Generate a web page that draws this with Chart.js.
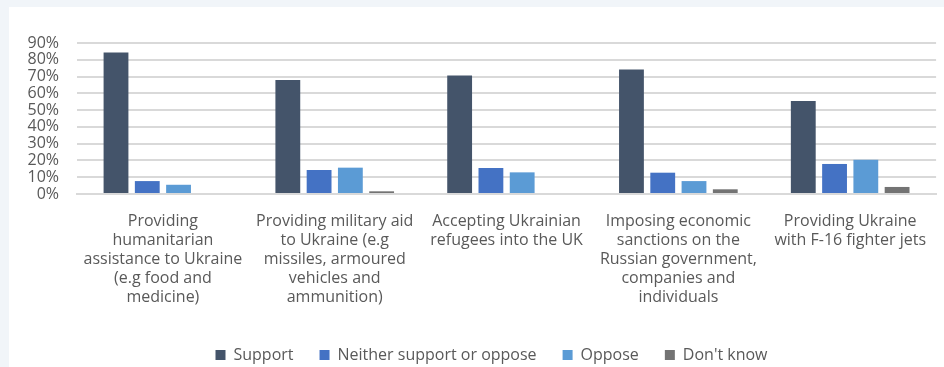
<!DOCTYPE html>
<html>
<head>
<meta charset="utf-8">
<script src="https://cdn.jsdelivr.net/npm/chart.js@4"></script>
<style>
  html, body { margin: 0; padding: 0; background: #f1f5f9; width: 944px; height: 367px; overflow: hidden; }
  #card { position: absolute; left: 9px; top: 7px; width: 935px; height: 360px; background: #fff; overflow: hidden; }
</style>
</head>
<body>
<div id="card"><canvas id="chart-ukraine" width="935" height="366"></canvas></div>
<script>
  // survey: public opinion on UK support for Ukraine (percent of respondents)
  var categories = [
    ['Providing', 'humanitarian', 'assistance to Ukraine', '(e.g food and', 'medicine)'],
    ['Providing military aid', 'to Ukraine (e.g', 'missiles, armoured', 'vehicles and', 'ammunition)'],
    ['Accepting Ukrainian', 'refugees into the UK'],
    ['Imposing economic', 'sanctions on the', 'Russian government,', 'companies and', 'individuals'],
    ['Providing Ukraine', 'with F-16 fighter jets']
  ];
  var support = [84.3, 68.0, 70.7, 74.2, 55.4];
  var neither = [7.7, 14.3, 15.5, 12.7, 17.9];
  var oppose = [5.5, 15.7, 12.9, 7.7, 20.4];
  var dontKnow = [0, 1.6, 0, 2.8, 4.2];
  var yMax = 90;
  var yStep = 10;

  var textColor = '#595959';
  var gridColor = '#d9d9d9';
  var fontFamily = '"Open Sans", sans-serif';

  function series(label, data, color) {
    return {
      label: label,
      data: data,
      backgroundColor: color,
      borderWidth: 0,
      categoryPercentage: 0.728,
      barPercentage: 0.794
    };
  }

  // legend sits a little right of the canvas centre
  var legendNudge = {
    id: 'legendNudge',
    afterLayout: function(chart) {
      chart.legend.left += 15;
      chart.legend.right += 15;
    }
  };

  var ctx = document.getElementById('chart-ukraine').getContext('2d');
  new Chart(ctx, {
    type: 'bar',
    data: {
      labels: categories,
      datasets: [
        series('Support', support, '#44546a'),
        series('Neither support or oppose', neither, '#4472c4'),
        series('Oppose', oppose, '#5b9bd5'),
        series("Don't know", dontKnow, '#737373')
      ]
    },
    plugins: [legendNudge],
    options: {
      responsive: false,
      animation: false,
      devicePixelRatio: 1,
      layout: { padding: { top: 36, right: 0, bottom: 0, left: 0 } },
      plugins: {
        tooltip: { enabled: false },
        legend: {
          position: 'bottom',
          labels: {
            color: textColor,
            font: { family: fontFamily, size: 16 },
            boxWidth: 10,
            boxHeight: 10,
            padding: 26
          }
        }
      },
      scales: {
        x: {
          afterFit: function(scale) { scale.height = 127; },
          grid: { display: false, drawTicks: false },
          border: { color: gridColor, width: 2 },
          ticks: {
            color: textColor,
            font: { family: fontFamily, size: 16, lineHeight: 1.19 },
            padding: 18,
            autoSkip: false,
            maxRotation: 0
          }
        },
        y: {
          min: 0,
          max: yMax,
          afterFit: function(scale) { scale.width = 68; },
          grid: { color: gridColor, lineWidth: 2, drawTicks: false },
          border: { display: false },
          ticks: {
            stepSize: yStep,
            autoSkip: false,
            color: textColor,
            font: { family: fontFamily, size: 16 },
            padding: 18,
            callback: function(v) { return v + '%'; }
          }
        }
      }
    }
  });
</script>
</body>
</html>
